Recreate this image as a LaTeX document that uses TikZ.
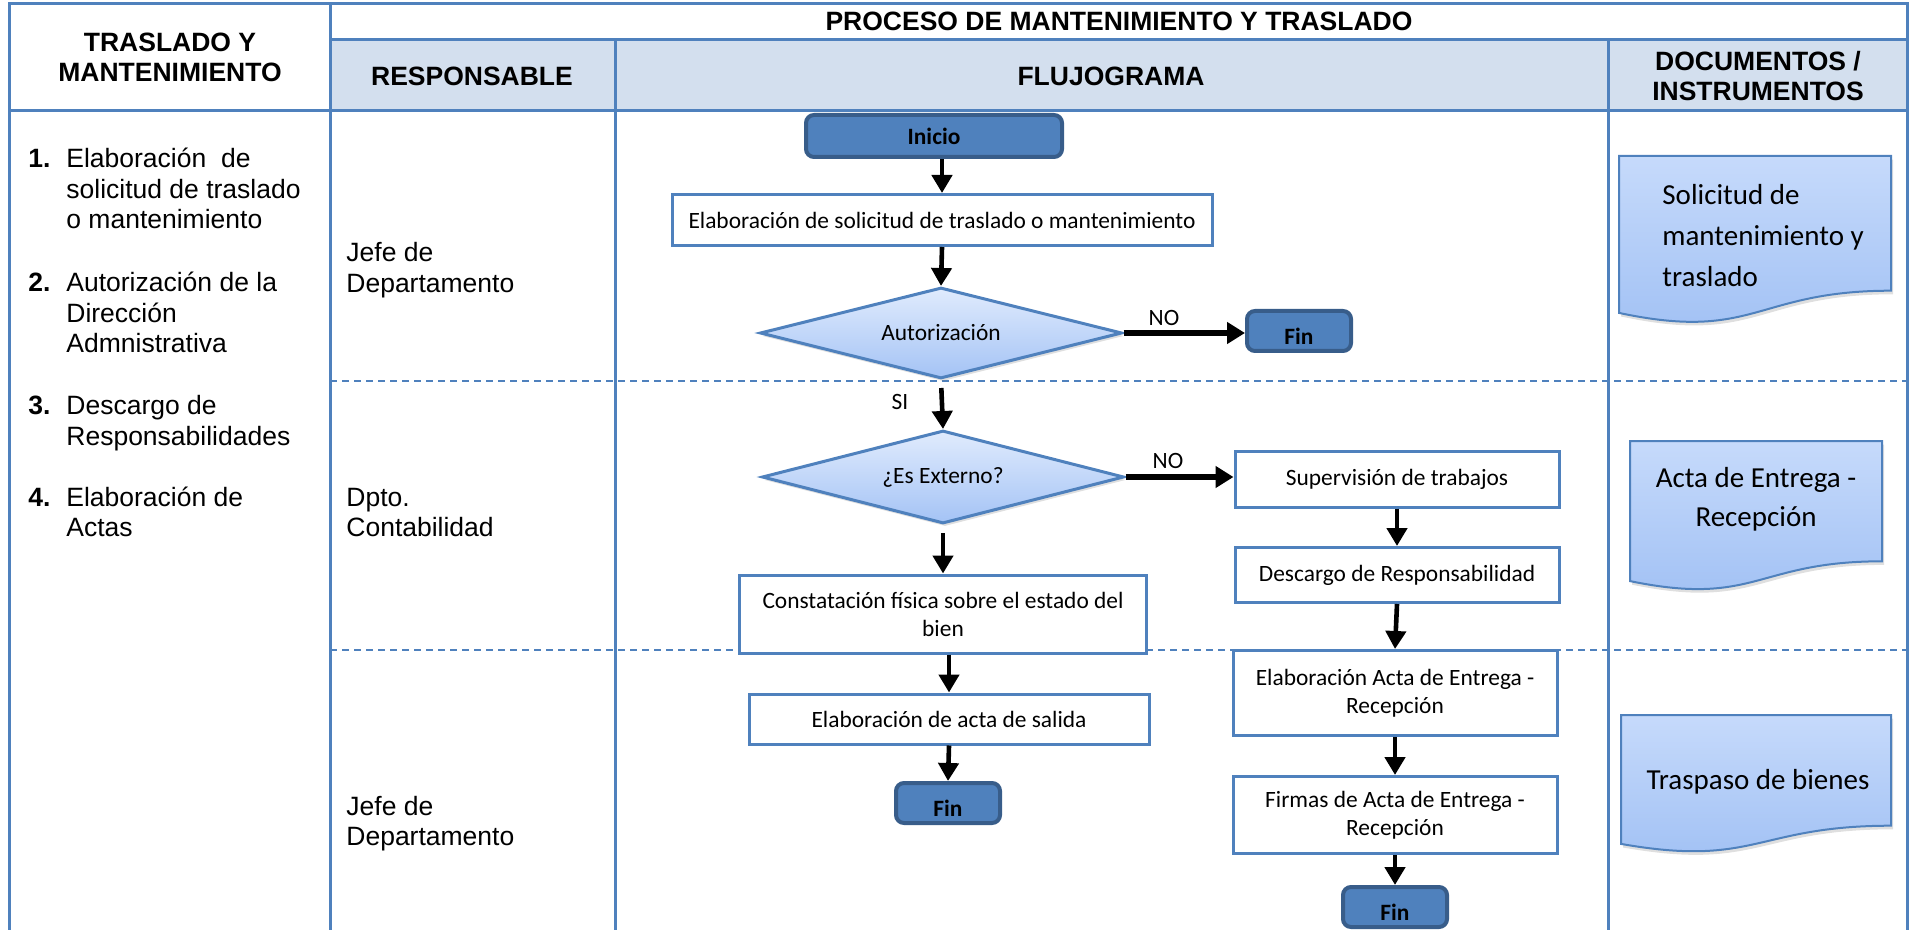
\documentclass[tikz,border=0pt]{standalone}
\usepackage{fontspec}
\setmainfont{Liberation Sans}
\newfontfamily\calibfont{Carlito}
\usetikzlibrary{arrows.meta,shapes.geometric,shadows}

\definecolor{gridblue}{RGB}{79,129,189}
\definecolor{headfill}{RGB}{211,223,238}
\definecolor{termfill}{RGB}{79,129,189}
\definecolor{termedge}{RGB}{56,93,138}
\definecolor{diatop}{RGB}{224,235,253}
\definecolor{diabot}{RGB}{164,195,245}
\definecolor{doctop}{RGB}{198,218,251}
\definecolor{docbot}{RGB}{160,192,244}

\tikzset{
  grid line/.style={draw=gridblue, line width=1.5pt, line cap=rect},
  lane line/.style={draw=gridblue, line width=0.9pt, dash pattern=on 3.5pt off 2.5pt},
  headtext/.style={font=\fontsize{13.25}{15}\selectfont\bfseries, align=center, inner sep=0pt},
  bodytext/.style={font=\fontsize{13.25}{15.2}\selectfont, inner sep=0pt, anchor=base west},
  process/.style={draw=gridblue, line width=1.5pt, fill=white, align=center, inner sep=0pt,
    font=\calibfont\fontsize{11.7}{14}\selectfont},
  terminal/.style={draw=termedge, line width=2pt, fill=termfill, rounded corners=4pt, inner sep=0pt,
    font=\calibfont\bfseries\fontsize{11.7}{14}\selectfont},
  endbox/.style={terminal, minimum width=52pt, minimum height=20pt, text height=13.2pt, text depth=0pt},
  decision/.style={diamond, aspect=4, draw=gridblue, line width=1.5pt, top color=diatop, bottom color=diabot,
    inner sep=0pt, minimum width=181pt, font=\calibfont\fontsize{11.7}{14}\selectfont,
    drop shadow={opacity=0.25, shadow xshift=1pt, shadow yshift=-1.5pt}},
  docshape/.style={draw=gridblue, line width=1pt, top color=doctop, bottom color=docbot,
    drop shadow={opacity=0.25, shadow xshift=1pt, shadow yshift=-1.8pt}},
  doctext/.style={font=\calibfont\fontsize{14.5}{20.5}\selectfont, inner sep=0pt},
  flow/.style={draw=black, line width=2.3pt, -{Triangle[length=9pt,width=10pt]}},
  flowside/.style={draw=black, line width=3pt, -{Triangle[length=9pt,width=10.5pt]}},
  flowlabel/.style={font=\calibfont\fontsize{11.7}{14}\selectfont, inner sep=0pt},
}

\begin{document}
\begin{tikzpicture}[x=0.5pt,y=-0.5pt]
\useasboundingbox (0,0) rectangle (1915,930);

% header band of the lane table
\fill[headfill] (330,40) rectangle (1907,111);

% swimlane separators
\draw[lane line] (330,381) -- (1907,381);
\draw[lane line] (330,650) -- (1907,650);

% table rules
\draw[grid line] (9,3.5) -- (1907,3.5);
\draw[grid line] (330,40) -- (1907,40);
\draw[grid line] (9,111) -- (1907,111);
\draw[grid line] (9,3.5) -- (9,930);
\draw[grid line] (330,3.5) -- (330,930);
\draw[grid line] (615,40) -- (615,930);
\draw[grid line] (1608,40) -- (1608,930);
\draw[grid line] (1907,3.5) -- (1907,930);

% column headings
\node[headtext] (hdrleft) at (170,57) {TRASLADO Y\\MANTENIMIENTO};
\node[headtext] (hdrproc) at (1119,21) {PROCESO DE MANTENIMIENTO Y TRASLADO};
\node[headtext] (hdrresp) at (472,76) {RESPONSABLE};
\node[headtext] (hdrflow) at (1111,76) {FLUJOGRAMA};
\node[headtext] (hdrdocs) at (1758,76) {DOCUMENTOS /\\INSTRUMENTOS};

% numbered activities
\node[bodytext] (num1) at (28,168) {\bfseries 1.};
\node[bodytext] (act1) at (66,168) {\begin{tabular}[t]{@{}l@{}}Elaboración~ de\\solicitud de traslado\\o mantenimiento\end{tabular}};
\node[bodytext] (num2) at (28,292) {\bfseries 2.};
\node[bodytext] (act2) at (66,292) {\begin{tabular}[t]{@{}l@{}}Autorización de la\\Dirección\\Admnistrativa\end{tabular}};
\node[bodytext] (num3) at (28,415) {\bfseries 3.};
\node[bodytext] (act3) at (66,415) {\begin{tabular}[t]{@{}l@{}}Descargo de\\Responsabilidades\end{tabular}};
\node[bodytext] (num4) at (28,506) {\bfseries 4.};
\node[bodytext] (act4) at (66,506) {\begin{tabular}[t]{@{}l@{}}Elaboración de\\Actas\end{tabular}};

% responsible parties
\node[bodytext] (resp1) at (346,262) {\begin{tabular}[t]{@{}l@{}}Jefe de\\Departamento\end{tabular}};
\node[bodytext] (resp2) at (346,506) {\begin{tabular}[t]{@{}l@{}}Dpto.\\Contabilidad\end{tabular}};
\node[bodytext] (resp3) at (346,815) {\begin{tabular}[t]{@{}l@{}}Jefe de\\Departamento\end{tabular}};

% flowchart
\node[terminal, minimum width=128pt, minimum height=21pt] (inicio) at (934,136) {Inicio};
\node[process, minimum width=270pt, minimum height=25.5pt] (elab) at (942,220) {Elaboración de solicitud de traslado o mantenimiento};
\node[decision, minimum height=45.5pt] (aut) at (941,333) {Autorización};
\node[endbox] (fin1) at (1299,331) {Fin};
\node[decision, minimum height=46.5pt] (ext) at (943,477) {¿Es Externo?};
\node[process, minimum width=162pt, minimum height=28pt] (sup) at (1397,479) {Supervisión de trabajos};
\node[process, minimum width=162pt, minimum height=27.5pt] (desc) at (1397,575) {Descargo de Responsabilidad};
\node[process, minimum width=203.5pt, minimum height=39pt] (const) at (943,614) {Constatación física sobre el estado del\\bien};
\node[process, minimum width=200pt, minimum height=25pt] (salida) at (949,719) {Elaboración de acta de salida};
\node[endbox] (fin2) at (948,803) {Fin};
\node[process, minimum width=162pt, minimum height=42.5pt] (acta) at (1395,693) {Elaboración Acta de Entrega -\\Recepción};
\node[process, minimum width=162pt, minimum height=38.5pt] (firmas) at (1395,815) {Firmas de Acta de Entrega -\\Recepción};
\node[endbox] (fin3) at (1395,907) {Fin};

% connectors
\draw[flow] (elab.north |- inicio.south) -- (elab.north);
\draw[flow] (elab.south) -- (aut.north);
\draw[flowside] (aut.east) -- (aut.east -| fin1.west);
\draw[flow, shorten <=4pt] (aut.south) -- (ext.north);
\draw[flowside] (ext.east) -- (ext.east -| sup.west);
\draw[flow, shorten <=4pt] (ext.south) -- (const.north);
\draw[flow] (salida.north |- const.south) -- (salida.north);
\draw[flow] (salida.south) -- (fin2.north);
\draw[flow] (sup.south) -- (desc.north);
\draw[flow] (desc.south) -- (acta.north);
\draw[flow] (acta.south) -- (firmas.north);
\draw[flow] (firmas.south) -- (fin3.north);

% branch labels
\node[flowlabel] (lblno1) at (1164,318) {NO};
\node[flowlabel] (lblsi) at (900,402) {SI};
\node[flowlabel] (lblno2) at (1168,461) {NO};

% documents / instruments
\path[docshape] (1619,156) -- (1891,156) -- (1891,290.7)
  .. controls (1755,290.7) and (1755,342) .. (1619,312.9) -- cycle;
\path[docshape] (1630,441) -- (1882,441) -- (1882,561.3)
  .. controls (1756,561.3) and (1756,607.1) .. (1630,581.1) -- cycle;
\path[docshape] (1621,715) -- (1891,715) -- (1891,825.7)
  .. controls (1756,825.7) and (1756,867.8) .. (1621,843.9) -- cycle;

\node[doctext, anchor=base west] (doc1) at (1662,205) {\begin{tabular}[t]{@{}l@{}}Solicitud de\\mantenimiento y\\traslado\end{tabular}};
\node[doctext, anchor=base, font=\calibfont\fontsize{14.5}{19.5}\selectfont] (doc2) at (1756,487) {\begin{tabular}[t]{@{}c@{}}Acta de Entrega -\\Recepción\end{tabular}};
\node[doctext, anchor=base] (doc3) at (1758,789) {Traspaso de bienes};
\end{tikzpicture}
\end{document}
